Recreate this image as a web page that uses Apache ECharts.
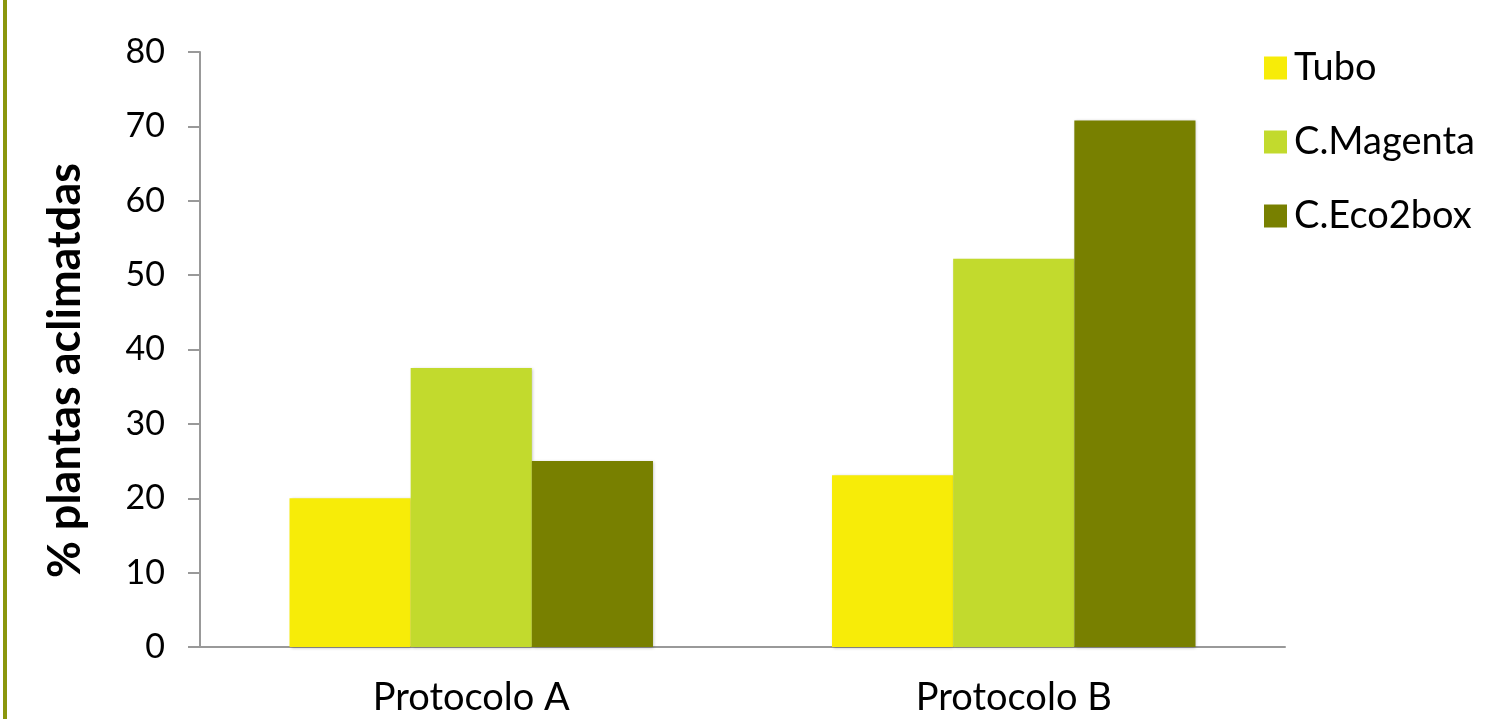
<!DOCTYPE html>
<html>
<head>
<meta charset="utf-8">
<script src="https://cdn.jsdelivr.net/npm/echarts@6/dist/echarts.min.js"></script>
<style>
html,body{margin:0;padding:0;background:#fff;}
#chart{width:1485px;height:719px;}
</style>
</head>
<body>
<div id="chart"></div>
<script>
const categories = ['Protocolo A', 'Protocolo B'];
const seriesNames = ['Tubo', 'C.Magenta', 'C.Eco2box'];
const tubo = [20, 23.1];
const magenta = [37.5, 52.2];
const eco2box = [25, 70.8];
const colors = ['#F7EC08', '#C2DA2D', '#788000'];
const yTitle = '% plantas aclimatdas';

const font = 'Lato, "Open Sans", sans-serif';
const values = [tubo, magenta, eco2box];

const chart = echarts.init(document.getElementById('chart'));
chart.setOption({
  animation: false,
  backgroundColor: '#ffffff',
  graphic: [{
    type: 'rect',
    shape: { x: 3, y: 0, width: 4, height: 719 },
    style: { fill: '#8A960C' }
  }],
  grid: { left: 200, right: 200, top: 52, bottom: 72 },
  legend: {
    orient: 'vertical',
    left: 1259,
    top: 44,
    itemWidth: 23,
    itemHeight: 23,
    itemGap: 36,
    icon: 'rect',
    textStyle: { fontFamily: font, fontSize: 38, lineHeight: 38, color: '#000', padding: [0, 0, 0, 2] },
    data: seriesNames
  },
  xAxis: {
    type: 'category',
    data: categories,
    axisLine: { lineStyle: { color: '#999', width: 2 } },
    axisTick: { show: false },
    axisLabel: { fontFamily: font, fontSize: 38, color: '#000', margin: 32 }
  },
  yAxis: {
    type: 'value',
    min: 0,
    max: 80,
    interval: 10,
    name: yTitle,
    nameLocation: 'middle',
    nameGap: 112,
    nameRotate: 90,
    nameTextStyle: { fontFamily: font, fontSize: 45, fontWeight: 'bold', color: '#000', padding: [0, 42, 0, 0] },
    axisLine: { show: true, lineStyle: { color: '#999', width: 2 } },
    axisTick: { show: true, length: 12, lineStyle: { color: '#999', width: 2 } },
    splitLine: { show: false },
    axisLabel: { fontFamily: font, fontSize: 34, color: '#000', margin: 35 }
  },
  series: seriesNames.map((n, i) => ({
    name: n,
    type: 'bar',
    data: values[i],
    barGap: '0%',
    barCategoryGap: '33%',
    itemStyle: {
      color: colors[i],
      shadowBlur: 3,
      shadowColor: 'rgba(0,0,0,0.25)',
      shadowOffsetX: 1,
      shadowOffsetY: 1
    }
  }))
});
</script>
</body>
</html>
